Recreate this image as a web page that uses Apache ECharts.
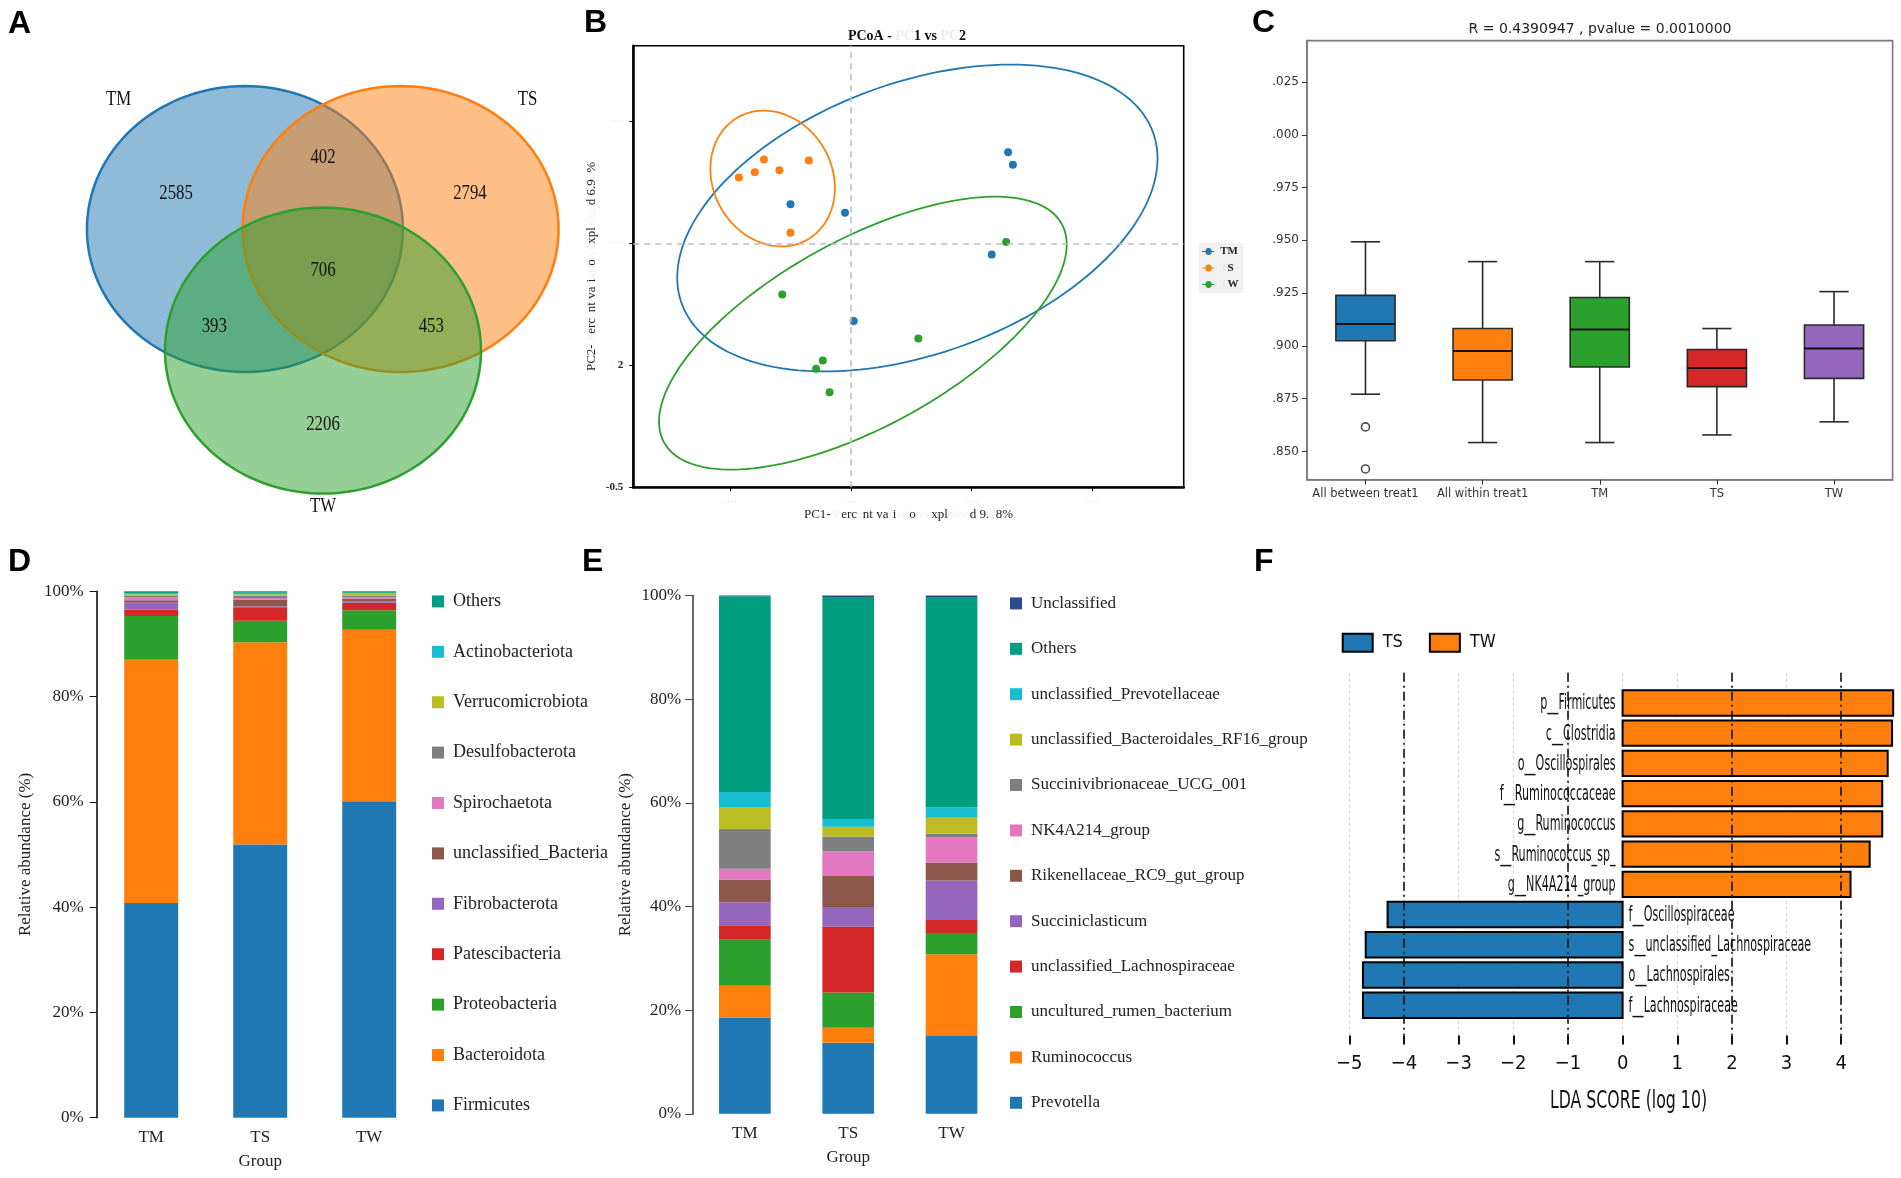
<!DOCTYPE html>
<html><head><meta charset="utf-8">
<script src="https://cdn.jsdelivr.net/npm/echarts@6/dist/echarts.min.js"></script>
<style>html,body{margin:0;padding:0;background:#fff}#c{width:1901px;height:1178px}</style>
</head><body><div id="c"></div>
<script>
// ===== A: Venn =====
const vennSets = ['TM', 'TS', 'TW'];
const vennRegions = ['TM only', 'TM∩TS', 'TS only', 'TM∩TS∩TW', 'TM∩TW', 'TS∩TW', 'TW only'];
const vennCounts = [2585, 402, 2794, 706, 393, 453, 2206];

// ===== B: PCoA =====
const pcoaGroups = ['TM', 'S', 'W'];
const pcoaTM = [[0.326, 0.187], [0.336, 0.161], [-0.125, 0.080], [-0.012, 0.063], [0.292, -0.023], [0.006, -0.159]];
const pcoaS = [[-0.232, 0.135], [-0.199, 0.146], [-0.180, 0.172], [-0.148, 0.150], [-0.087, 0.170], [-0.125, 0.022]];
const pcoaW = [[0.322, 0.003], [-0.142, -0.105], [0.140, -0.195], [-0.058, -0.240], [-0.072, -0.257], [-0.044, -0.305]];
const pcoaXTicks = [-0.25, 0, 0.25, 0.5];
const pcoaXTickLabels = ['····', '····', '····', '····'];
const pcoaYTicks = [-0.5, -0.25, 0, 0.25];
const pcoaYTickLabels = ['-0.5', '2', '····', '····'];
const pcoaTitle = 'PCoA - {f|PC}1 vs {f|PC}2';
const pcoaXName = 'PC1- {f|P}erc{f|e}nt va{f|r}i{f|ati}o{f|n e}xpl{f|aine}d 9.{f|1}8%';
const pcoaYName = 'PC2- {f|P}erc{f|e}nt va{f|r}i{f|ati}o{f|n e}xpl{f|aine}d 6.9{f|2}%';

// ===== C: Anosim box plot =====
const boxCategories = ['All between treat1', 'All within treat1', 'TM', 'TS', 'TW'];
const boxLow = [0.8771, 0.8542, 0.8542, 0.8578, 0.8640];
const boxQ1 = [0.9024, 0.8838, 0.8900, 0.8807, 0.8846];
const boxMedian = [0.9103, 0.8976, 0.9077, 0.8895, 0.8988];
const boxQ3 = [0.9239, 0.9082, 0.9229, 0.8983, 0.9099];
const boxHigh = [0.9493, 0.9399, 0.9399, 0.9082, 0.9257];
const boxOutliers = [[0, 0.8616], [0, 0.8417]];
const boxYTicks = [0.85, 0.875, 0.9, 0.925, 0.95, 0.975, 1.0, 1.025];
const boxYTickLabels = ['.850', '.875', '.900', '.925', '.950', '.975', '.000', '.025'];
const boxTitle = 'R = 0.4390947 , pvalue = 0.0010000';

// ===== D: phylum =====
const groups = ['TM', 'TS', 'TW'];
const phylumNames = ['Firmicutes', 'Bacteroidota', 'Proteobacteria', 'Patescibacteria', 'Fibrobacterota', 'unclassified_Bacteria', 'Spirochaetota', 'Desulfobacterota', 'Verrucomicrobiota', 'Actinobacteriota', 'Others'];
const phylumValues = [
  [40.8, 51.9, 60.1],
  [46.2, 38.4, 32.6],
  [8.3, 4.1, 3.7],
  [1.2, 2.4, 1.4],
  [1.4, 0.3, 0.3],
  [0.4, 1.3, 0.5],
  [0.5, 0.3, 0.2],
  [0.4, 0.5, 0.4],
  [0.2, 0.2, 0.3],
  [0.2, 0.3, 0.2],
  [0.4, 0.3, 0.3]
];

// ===== E: genus =====
const genusNames = ['Prevotella', 'Ruminococcus', 'uncultured_rumen_bacterium', 'unclassified_Lachnospiraceae', 'Succiniclasticum', 'Rikenellaceae_RC9_gut_group', 'NK4A214_group', 'Succinivibrionaceae_UCG_001', 'unclassified_Bacteroidales_RF16_group', 'unclassified_Prevotellaceae', 'Others', 'Unclassified'];
const genusValues = [
  [18.6, 13.7, 15.0],
  [6.1, 2.9, 15.8],
  [8.9, 6.8, 4.1],
  [2.8, 12.7, 2.5],
  [4.4, 3.8, 7.6],
  [4.4, 6.0, 3.5],
  [2.1, 4.7, 4.8],
  [7.7, 2.9, 0.8],
  [4.2, 1.9, 3.0],
  [2.9, 1.5, 2.0],
  [37.75, 42.8, 40.6],
  [0.15, 0.3, 0.3]
];

// ===== F: LEfSe =====
const ldaFeatures = ['p__Firmicutes', 'c__Clostridia', 'o__Oscillospirales', 'f__Ruminococcaceae', 'g__Ruminococcus', 's__Ruminococcus_sp_', 'g__NK4A214_group', 'f__Oscillospiraceae', 's__unclassified_Lachnospiraceae', 'o__Lachnospirales', 'f__Lachnospiraceae'];
const ldaScores = [4.95, 4.93, 4.85, 4.75, 4.75, 4.52, 4.17, -4.30, -4.70, -4.75, -4.75];
const ldaClass = ['TW', 'TW', 'TW', 'TW', 'TW', 'TW', 'TW', 'TS', 'TS', 'TS', 'TS'];
const ldaClasses = ['TS', 'TW'];
const ldaTicks = [-5, -4, -3, -2, -1, 0, 1, 2, 3, 4];
const ldaTickLabels = ['−5', '−4', '−3', '−2', '−1', '0', '1', '2', '3', '4'];
const ldaRefLines = [-4, -1, 2, 4];
const ldaAxisTitle = 'LDA SCORE (log 10)';

// ===== layout / style constants (not data) =====
const SERIF = "'Liberation Serif', 'Times New Roman', serif";
const SANS = "'DejaVu Sans', sans-serif";
const NARROW = "'DejaVu Sans Condensed', 'Liberation Sans Narrow', 'DejaVu Sans', sans-serif";
const HEAD = "'Liberation Sans', Arial, sans-serif";
const tab = ['#1f77b4', '#ff7f0e', '#2ca02c', '#d62728', '#9467bd', '#8c564b', '#e377c2', '#7f7f7f', '#bcbd22', '#17becf'];
const OTHERS = '#009e80';
const vennLayout = {
  centers: [[-0.494, 0.85], [0.491, 0.85], [0, 0]],
  countPos: [[-0.93, 1.096], [0, 1.349], [0.93, 1.096], [0, 0.561], [-0.688, 0.169], [0.685, 0.169], [0, -0.515]],
  setPos: [[-1.294, 1.753], [1.294, 1.753], [0, -1.088]],
  fill: ['rgba(31,119,180,0.5)', 'rgba(255,127,14,0.5)', 'rgba(44,160,44,0.5)'],
  stroke: ['#1f77b4', '#ff7f0e', '#2ca02c']
};
const pcoaEllipseFit = [
  { c: [0.138, 0.052], a: 0.519, b: 0.278, t: 19.6, color: '#1f77b4' },
  { c: [-0.162, 0.133], a: 0.1445, b: 0.123, t: 121, color: '#ff7f0e' },
  { c: [0.025, -0.184], a: 0.469, b: 0.192, t: 28.4, color: '#2ca02c' }
];
const boxColors = ['#1f77b4', '#ff7f0e', '#2ca02c', '#d62728', '#9467bd'];
const phylumColors = [tab[0], tab[1], tab[2], tab[3], tab[4], tab[5], tab[6], tab[7], tab[8], tab[9], OTHERS];
const genusColors = [tab[0], tab[1], tab[2], tab[3], tab[4], tab[5], tab[6], tab[7], tab[8], tab[9], OTHERS, '#2b4c8c'];
const ldaColors = { TS: '#1f77b4', TW: '#ff7f0e' };

function ellipsePoints(api, cx, cy, a, b, tDeg) {
  const th = tDeg * Math.PI / 180, pts = [];
  for (let k = 0; k <= 160; k++) {
    const t = 2 * Math.PI * k / 160;
    const dx = a * Math.cos(t) * Math.cos(th) - b * Math.sin(t) * Math.sin(th);
    const dy = a * Math.cos(t) * Math.sin(th) + b * Math.sin(t) * Math.cos(th);
    pts.push(api.coord([cx + dx, cy + dy]));
  }
  return pts;
}
function lookup(ticks, labels, v) {
  const i = ticks.findIndex(t => Math.abs(t - v) < 1e-6);
  return i < 0 ? '' : labels[i];
}
const noBounds = { outerBoundsMode: 'none', containLabel: false };

const series = [];
// A
series.push({
  type: 'custom', name: 'venn', xAxisIndex: 0, yAxisIndex: 0, silent: true, clip: false, z: 1,
  data: vennSets.map((s, i) => [vennLayout.centers[i][0], vennLayout.centers[i][1]]),
  renderItem: (p, api) => ({
    type: 'polygon', shape: { points: ellipsePoints(api, api.value(0), api.value(1), 1, 1, 0) },
    style: { fill: vennLayout.fill[p.dataIndex], stroke: vennLayout.stroke[p.dataIndex], lineWidth: 2.5 }
  })
});
series.push({
  type: 'custom', name: 'vennCounts', xAxisIndex: 0, yAxisIndex: 0, silent: true, clip: false, z: 3,
  data: vennCounts.map((v, i) => [vennLayout.countPos[i][0], vennLayout.countPos[i][1], v]),
  renderItem: (p, api) => {
    const c = api.coord([api.value(0), api.value(1)]);
    return { type: 'text', x: c[0], y: c[1], scaleX: 0.8,
      style: { text: String(api.value(2)), fontFamily: SERIF, fontSize: 21, fill: '#111', align: 'center', verticalAlign: 'middle' } };
  }
});
series.push({
  type: 'custom', name: 'vennSets', xAxisIndex: 0, yAxisIndex: 0, silent: true, clip: false, z: 3,
  data: vennSets.map((s, i) => [vennLayout.setPos[i][0], vennLayout.setPos[i][1]]),
  renderItem: (p, api) => {
    const c = api.coord([api.value(0), api.value(1)]);
    return { type: 'text', x: c[0], y: c[1], scaleX: 0.8,
      style: { text: vennSets[p.dataIndex], fontFamily: SERIF, fontSize: 21, fill: '#111', align: 'center', verticalAlign: 'middle' } };
  }
});
// B
series.push({
  type: 'custom', name: 'ellipses', xAxisIndex: 1, yAxisIndex: 1, silent: true, z: 2,
  data: pcoaEllipseFit.map(e => [e.c[0], e.c[1]]),
  renderItem: (p, api) => {
    const e = pcoaEllipseFit[p.dataIndex];
    return { type: 'polyline', shape: { points: ellipsePoints(api, api.value(0), api.value(1), e.a, e.b, e.t) },
      style: { fill: 'none', stroke: e.color, lineWidth: 1.8 } };
  }
});
[[pcoaTM, '#1f77b4'], [pcoaS, '#ff7f0e'], [pcoaW, '#2ca02c']].forEach((g, i) => {
  const s = {
    type: 'scatter', name: pcoaGroups[i], xAxisIndex: 1, yAxisIndex: 1, data: g[0],
    symbolSize: 8, itemStyle: { color: g[1], opacity: 1 }, z: 4
  };
  if (i === 0) s.markLine = {
    silent: true, symbol: 'none', label: { show: false },
    lineStyle: { type: [6, 5], color: '#bdbdbd', width: 1.6 },
    data: [{ xAxis: 0 }, { yAxis: 0 }]
  };
  series.push(s);
});
// C
series.push({
  type: 'custom', name: 'anosim', xAxisIndex: 2, yAxisIndex: 2, z: 3,
  encode: { x: 0, y: [1, 2, 3, 4, 5] },
  data: boxCategories.map((c, i) => [i, boxLow[i], boxQ1[i], boxMedian[i], boxQ3[i], boxHigh[i]]),
  renderItem: (p, api) => {
    const i = api.value(0);
    const band = api.size([1, 0])[0];
    const bw = band * 0.505, cw = band * 0.25;
    const x = api.coord([i, api.value(3)])[0];
    const y = k => api.coord([i, api.value(k)])[1];
    const yL = y(1), yQ1 = y(2), yM = y(3), yQ3 = y(4), yH = y(5);
    const ls = { stroke: '#2a2a2a', lineWidth: 1.6 };
    return { type: 'group', children: [
      { type: 'line', shape: { x1: x, y1: yQ3, x2: x, y2: yH }, style: ls },
      { type: 'line', shape: { x1: x, y1: yQ1, x2: x, y2: yL }, style: ls },
      { type: 'line', shape: { x1: x - cw / 2, y1: yH, x2: x + cw / 2, y2: yH }, style: ls },
      { type: 'line', shape: { x1: x - cw / 2, y1: yL, x2: x + cw / 2, y2: yL }, style: ls },
      { type: 'rect', shape: { x: x - bw / 2, y: yQ3, width: bw, height: yQ1 - yQ3 }, style: { fill: boxColors[p.dataIndex], stroke: '#2a2a2a', lineWidth: 1.6 } },
      { type: 'line', shape: { x1: x - bw / 2, y1: yM, x2: x + bw / 2, y2: yM }, style: { stroke: '#111', lineWidth: 2 } }
    ] };
  }
});
series.push({
  type: 'scatter', name: 'outliers', xAxisIndex: 2, yAxisIndex: 2, data: boxOutliers, symbolSize: 8, z: 4,
  itemStyle: { color: '#fff', borderColor: '#222', borderWidth: 1.6 }
});
// D
phylumNames.forEach((n, i) => series.push({
  type: 'bar', name: n, stack: 'D', xAxisIndex: 3, yAxisIndex: 3, data: phylumValues[i],
  barWidth: '49.5%', itemStyle: { color: phylumColors[i] }
}));
// E
genusNames.forEach((n, i) => series.push({
  type: 'bar', name: n, stack: 'E', xAxisIndex: 4, yAxisIndex: 4, data: genusValues[i],
  barWidth: '50%', itemStyle: { color: genusColors[i] }
}));
// F
ldaClasses.forEach((cls, ci) => {
  const s = {
    type: 'custom', name: cls, xAxisIndex: 5, yAxisIndex: 5, z: 3, clip: false,
    itemStyle: { color: ldaColors[cls] },
    data: ldaScores.map((v, i) => [v, i]).filter((d, i) => ldaClass[i] === cls),
    renderItem: (p, api) => {
      const v = api.value(0), r = api.value(1);
      const p0 = api.coord([0, r]), p1 = api.coord([v, r]);
      const h = Math.abs(api.size([0, 1])[1]) * 0.84;
      const pos = v > 0;
      return { type: 'group', children: [
        { type: 'rect', shape: { x: Math.min(p0[0], p1[0]), y: p0[1] - h / 2, width: Math.abs(p1[0] - p0[0]), height: h },
          style: { fill: ldaColors[cls], stroke: '#000', lineWidth: 2 } },
        { type: 'text', x: pos ? p0[0] - 7 : p0[0] + 6, y: p0[1] + 1, scaleX: 0.59,
          style: { text: ldaFeatures[r], fontFamily: NARROW, fontSize: 21, fill: '#111', align: pos ? 'right' : 'left', verticalAlign: 'middle' } }
      ] };
    }
  };
  if (ci === 0) s.markLine = {
    silent: true, symbol: 'none', label: { show: false }, z: 5,
    lineStyle: { type: [9, 4, 2, 4], color: '#111', width: 1.6 },
    data: ldaRefLines.map(x => ({ xAxis: x }))
  };
  series.push(s);
});

const hidden = { show: false };
const option = {
  animation: false,
  backgroundColor: '#fff',
  grid: [
    Object.assign({ left: 54.4, top: 50.3, width: 537.2, height: 486.2 }, noBounds),
    Object.assign({ left: 633.2, top: 45.8, width: 550.5, height: 441.5, show: true, borderColor: '#000', borderWidth: 1.6 }, noBounds),
    Object.assign({ left: 1306.9, top: 40.6, width: 585.7, height: 439.1, show: true, borderColor: '#7a7a7a', borderWidth: 1.6 }, noBounds),
    Object.assign({ left: 96.7, top: 591.2, width: 327, height: 526.5 }, noBounds),
    Object.assign({ left: 693.2, top: 595.5, width: 310, height: 518.3 }, noBounds),
    Object.assign({ left: 1349.3, top: 672.7, width: 546.6, height: 362.8 }, noBounds)
  ],
  xAxis: [
    { gridIndex: 0, type: 'value', min: -1.7, max: 1.7, show: false },
    { gridIndex: 1, type: 'value', min: -0.451, max: 0.690,
      axisLine: { show: true, onZero: false, lineStyle: { color: '#000', width: 2.6 } },
      axisTick: { show: true, customValues: pcoaXTicks, length: 4, lineStyle: { color: '#000' } },
      axisLabel: { customValues: pcoaXTicks, margin: 10, color: '#dedede', fontFamily: SERIF, fontSize: 10,
        formatter: v => lookup(pcoaXTicks, pcoaXTickLabels, v) },
      splitLine: hidden,
      name: pcoaXName, nameLocation: 'middle', nameGap: 19,
      nameTextStyle: { fontFamily: SERIF, fontSize: 13, color: '#222', rich: { f: { color: '#f3f3f3', fontFamily: SERIF, fontSize: 13 } } } },
    { gridIndex: 2, type: 'category', data: boxCategories,
      axisLine: { show: true, onZero: false, lineStyle: { color: '#7a7a7a', width: 1.6 } },
      axisTick: { show: true, alignWithLabel: true, length: 5, lineStyle: { color: '#333' } },
      axisLabel: { margin: 8, fontFamily: SANS, fontSize: 11.5, color: '#333', interval: 0 } },
    { gridIndex: 3, type: 'category', data: groups,
      axisLine: { show: false, onZero: false }, axisTick: hidden,
      axisLabel: { margin: 11, fontFamily: SERIF, fontSize: 17, color: '#222' },
      name: 'Group', nameLocation: 'middle', nameGap: 35, nameTextStyle: { fontFamily: SERIF, fontSize: 17, color: '#222' } },
    { gridIndex: 4, type: 'category', data: groups,
      axisLine: { show: false, onZero: false }, axisTick: hidden,
      axisLabel: { margin: 11, fontFamily: SERIF, fontSize: 17, color: '#222' },
      name: 'Group', nameLocation: 'middle', nameGap: 35, nameTextStyle: { fontFamily: SERIF, fontSize: 17, color: '#222' } },
    { gridIndex: 5, type: 'value', min: -5, max: 5, interval: 1,
      axisLine: { show: false, onZero: false },
      axisTick: { show: true, customValues: ldaTicks, length: 9, lineStyle: { color: '#111', width: 2 } },
      axisLabel: { customValues: ldaTicks, margin: 18, fontFamily: NARROW, fontSize: 20, color: '#111',
        formatter: v => lookup(ldaTicks, ldaTickLabels, v) },
      splitLine: { show: true, lineStyle: { type: [3, 3], color: '#d4d4d4', width: 1.2 } } }
  ],
  yAxis: [
    { gridIndex: 0, type: 'value', min: -1.3, max: 2.1, show: false },
    { gridIndex: 1, type: 'value', min: -0.5, max: 0.405,
      axisLine: { show: true, onZero: false, lineStyle: { color: '#000', width: 2.6 } },
      axisTick: { show: true, customValues: pcoaYTicks, length: 4, lineStyle: { color: '#000' } },
      axisLabel: { customValues: pcoaYTicks, margin: 10,
        formatter: v => { const s = lookup(pcoaYTicks, pcoaYTickLabels, v); if (/^·+$/.test(s)) return '{f|' + s + '}'; if (s === '2') return '{f|·} {d|2}'; return '{d|' + s + '}'; },
        rich: { d: { fontFamily: SERIF, fontWeight: 'bold', fontSize: 11, color: '#222' }, f: { fontFamily: SERIF, fontSize: 10, color: '#dedede' } } },
      splitLine: hidden,
      name: pcoaYName, nameLocation: 'middle', nameGap: 35, nameRotate: 90,
      nameTextStyle: { fontFamily: SERIF, fontSize: 13, color: '#222', rich: { f: { color: '#f3f3f3', fontFamily: SERIF, fontSize: 13 } } } },
    { gridIndex: 2, type: 'value', min: 0.8366, max: 1.0446,
      axisLine: { show: true, onZero: false, lineStyle: { color: '#7a7a7a', width: 1.6 } },
      axisTick: { show: true, customValues: boxYTicks, length: 5, lineStyle: { color: '#333' } },
      axisLabel: { customValues: boxYTicks, margin: 8, fontFamily: SANS, fontSize: 12, color: '#333',
        formatter: v => lookup(boxYTicks, boxYTickLabels, v) },
      splitLine: hidden },
    { gridIndex: 3, type: 'value', min: 0, max: 100, interval: 20,
      axisLine: { show: true, onZero: false, lineStyle: { color: '#111', width: 1.6 } },
      axisTick: { show: true, length: 7, lineStyle: { color: '#111' } },
      axisLabel: { margin: 13, formatter: '{value}%', fontFamily: SERIF, fontSize: 17, color: '#222' },
      splitLine: hidden,
      name: 'Relative abundance (%)', nameLocation: 'middle', nameGap: 63, nameRotate: 90,
      nameTextStyle: { fontFamily: SERIF, fontSize: 17, color: '#222' } },
    { gridIndex: 4, type: 'value', min: 0, max: 100, interval: 20,
      axisLine: { show: true, onZero: false, lineStyle: { color: '#444', width: 1.6 } },
      axisTick: { show: true, length: 8, lineStyle: { color: '#444' } },
      axisLabel: { margin: 12, formatter: '{value}%', fontFamily: SERIF, fontSize: 17, color: '#222' },
      splitLine: hidden,
      name: 'Relative abundance (%)', nameLocation: 'middle', nameGap: 59, nameRotate: 90,
      nameTextStyle: { fontFamily: SERIF, fontSize: 17, color: '#222' } },
    { gridIndex: 5, type: 'value', min: -1, max: 11, inverse: true, show: false }
  ],
  legend: [
    { data: pcoaGroups, orient: 'vertical', left: 1199, top: 243, itemWidth: 14, itemHeight: 7, itemGap: 5.5,
      icon: 'path://M0,3 L4,3 A3.5,3.5 0 1 1 11,3 L14,3 L14,4 L11,4 A3.5,3.5 0 1 1 4,4 L0,4 Z',
      backgroundColor: '#f1f1f1', padding: [3, 5, 3, 3],
      formatter: n => n === 'TM' ? '{d|TM}' : '{f|T}{d|' + n + '}',
      textStyle: { rich: { d: { fontFamily: SERIF, fontWeight: 'bold', fontSize: 11, color: '#222' }, f: { fontFamily: SERIF, fontWeight: 'bold', fontSize: 11, color: '#e6e6e6' } } } },
    { data: phylumNames.slice().reverse(), orient: 'vertical', left: 432, top: 592.4, itemWidth: 12, itemHeight: 12, itemGap: 32.4,
      icon: 'rect', padding: 0, textStyle: { fontFamily: SERIF, fontSize: 18, color: '#222', padding: [0, 0, 0, 4] } },
    { data: genusNames.slice().reverse(), orient: 'vertical', left: 1010, top: 594.9, itemWidth: 12, itemHeight: 12, itemGap: 28.4,
      icon: 'rect', padding: 0, textStyle: { fontFamily: SERIF, fontSize: 17, color: '#222', padding: [0, 0, 0, 4] } },
    { data: ldaClasses, orient: 'horizontal', left: 1341.7, top: 632.7, itemWidth: 30, itemHeight: 18, itemGap: 26,
      icon: 'rect', padding: 0, itemStyle: { borderColor: '#000', borderWidth: 2 },
      textStyle: { fontFamily: NARROW, fontSize: 18, color: '#111', padding: [0, 0, 0, 5] } }
  ],
  graphic: [
    { type: 'text', left: 8, top: 8, style: { text: 'A', fontFamily: HEAD, fontWeight: 'bold', fontSize: 32, fill: '#000' } },
    { type: 'text', left: 584, top: 7, style: { text: 'B', fontFamily: HEAD, fontWeight: 'bold', fontSize: 32, fill: '#000' } },
    { type: 'text', left: 1252, top: 7, style: { text: 'C', fontFamily: HEAD, fontWeight: 'bold', fontSize: 32, fill: '#000' } },
    { type: 'text', left: 8, top: 546, style: { text: 'D', fontFamily: HEAD, fontWeight: 'bold', fontSize: 32, fill: '#000' } },
    { type: 'text', left: 582, top: 546, style: { text: 'E', fontFamily: HEAD, fontWeight: 'bold', fontSize: 32, fill: '#000' } },
    { type: 'text', left: 1254, top: 546, style: { text: 'F', fontFamily: HEAD, fontWeight: 'bold', fontSize: 32, fill: '#000' } },
    { type: 'text', x: 907, y: 36, style: { text: pcoaTitle, align: 'center', verticalAlign: 'middle', fontFamily: SERIF, fontWeight: 'bold', fontSize: 14, fill: '#111',
      rich: { f: { fontFamily: SERIF, fontWeight: 'bold', fontSize: 14, fill: '#ececec' } } } },
    { type: 'text', x: 1600, y: 29, style: { text: boxTitle, align: 'center', verticalAlign: 'middle', fontFamily: SANS, fontSize: 14, fill: '#222' } },
    { type: 'text', x: 1628.5, y: 1101.6, scaleX: 0.73, style: { text: ldaAxisTitle, align: 'center', verticalAlign: 'middle', fontFamily: NARROW, fontSize: 24, fill: '#111' } }
  ],
  series: series
};
const chart = echarts.init(document.getElementById('c'), null, { renderer: 'canvas', width: 1901, height: 1178 });
chart.setOption(option);
</script>
</body></html>
